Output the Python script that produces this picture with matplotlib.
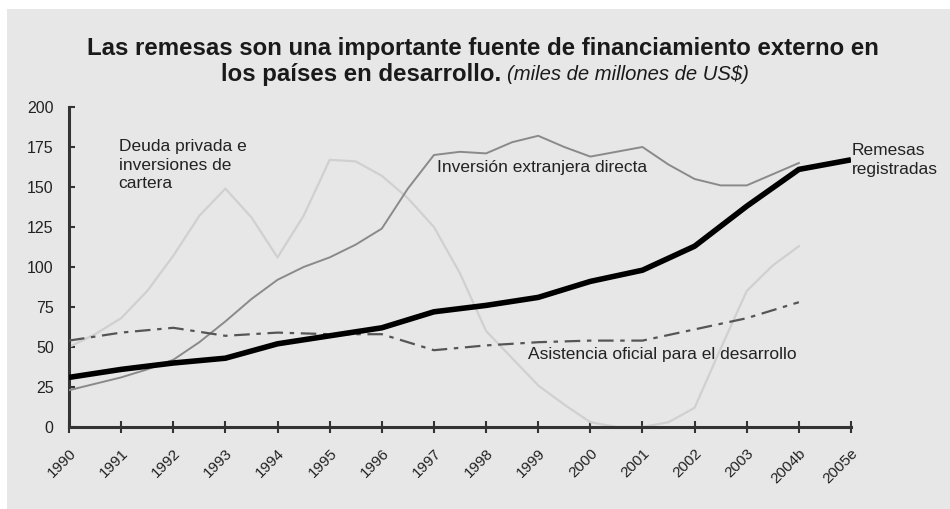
import numpy as np
import matplotlib.pyplot as plt
from matplotlib.patches import Rectangle
from matplotlib.transforms import ScaledTranslation

plt.rcParams['font.family'] = ['Liberation Sans', 'DejaVu Sans']

years = ['1990', '1991', '1992', '1993', '1994', '1995', '1996', '1997',
         '1998', '1999', '2000', '2001', '2002', '2003', '2004b', '2005e']

# remesas registradas (1990 - 2005e)
remesas = [31, 36, 40, 43, 52, 57, 62, 72, 76, 81, 91, 98, 113, 138, 161, 167]

# asistencia oficial para el desarrollo (1990 - 2004b)
asistencia = [54, 59, 62, 57, 59, 58, 58, 48, 51, 53, 54, 54, 61, 68, 78]

# inversion extranjera directa, read every half year (1990 - 2004b)
ied = [23, 27, 31, 36, 42, 53, 66, 80, 92, 100, 106, 114, 124, 149, 170, 172,
       171, 178, 182, 175, 169, 172, 175, 164, 155, 151, 151, 158, 165]

# deuda privada e inversiones de cartera, read every half year (1990 - 2004b)
deuda = [50, 58, 68, 85, 107, 132, 149, 131, 106, 132, 167, 166, 157, 143,
         125, 96, 60, 43, 26, 14, 3, 0, 0, 3, 12, 49, 85, 101, 113]

bg = '#e7e7e7'

fig = plt.figure(figsize=(9.5, 5.09), dpi=100, facecolor='white')
fig.patches.append(Rectangle((7 / 950, 0), 1, 1 - 9 / 509, transform=fig.transFigure,
                             facecolor=bg, edgecolor='none', zorder=-10))

ax = fig.add_axes([69 / 950, 1 - 427 / 509, (851 - 69) / 950, (427 - 107) / 509])
ax.set_facecolor('none')
ax.set_zorder(2)

x_full = np.arange(len(remesas))
x_half = np.arange(len(ied)) * 0.5

ax.plot(x_half, deuda, color='#d0d0d0', lw=1.6, zorder=2)
ax.plot(x_half, ied, color='#8a8a8a', lw=1.4, zorder=3)
ax.plot(x_full[:len(asistencia)], asistencia, color='#555555', lw=1.6,
        dashes=(7, 3, 2, 3), zorder=3)
ax.plot(x_full, remesas, color='black', lw=4, zorder=4, solid_capstyle='butt')

ax.set_xlim(0, len(years) - 1)
ax.set_ylim(0, 200)
ax.set_yticks(range(0, 201, 25))
ax.set_xticks(x_full)
ax.set_xticklabels(years, rotation=45, ha='right', rotation_mode='anchor',
                   fontsize=11, color='#222222')
shift = ScaledTranslation(-9 / 100, -4 / 100, fig.dpi_scale_trans)
for t in ax.get_xticklabels():
    t.set_transform(t.get_transform() + shift)
ax.tick_params(axis='y', direction='in', length=4, width=1.5, labelsize=11.5,
               labelcolor='#222222', color='#333333', pad=11)
ax.tick_params(axis='x', direction='inout', length=8, width=1.5, color='#333333', pad=10)

for s in ['top', 'right']:
    ax.spines[s].set_visible(False)
for s in ['left', 'bottom']:
    ax.spines[s].set_linewidth(2.2)
    ax.spines[s].set_color('#333333')

lab = dict(fontsize=12.5, color='#222222', zorder=5)
ax.text(0.95, 180, 'Deuda privada e\ninversiones de\ncartera', va='top',
        linespacing=1.3, **lab)
ax.text(7.05, 162, 'Inversión extranjera directa', va='center', **lab)
ax.text(15.02, 167, 'Remesas\nregistradas', va='center', ha='left',
        linespacing=1.3, clip_on=False, **lab)
ax.text(8.8, 45, 'Asistencia oficial para el desarrollo', va='center', **lab)

fig.text(483 / 950, 1 - 48 / 509, 'Las remesas son una importante fuente de financiamiento externo en',
         ha='center', va='center', fontsize=17.3, fontweight='bold', color='#1a1a1a')
fig.text(501 / 950, 1 - 75 / 509, 'los países en desarrollo.',
         ha='right', va='center', fontsize=17.3, fontweight='bold', color='#1a1a1a')
fig.text(507 / 950, 1 - 75 / 509, '(miles de millones de US$)',
         ha='left', va='center', fontsize=14.6, fontstyle='italic', color='#1a1a1a')

fig.savefig('out.png', dpi=100, facecolor='white')
